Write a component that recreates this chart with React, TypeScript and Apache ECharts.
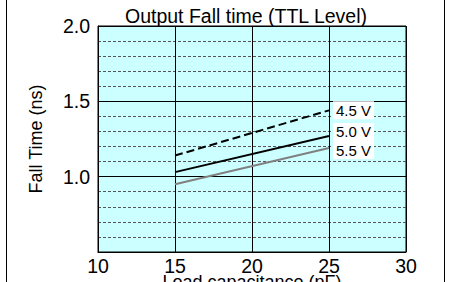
import React, { useEffect, useRef } from "react";
import * as echarts from "echarts";

const capacitance = [15, 25];
const fall45 = [1.14, 1.44];
const fall50 = [1.03, 1.27];
const fall55 = [0.95, 1.19];
const seriesNames = ["4.5 V", "5.0 V", "5.5 V"];

const FONT = "'Liberation Sans', Arial, sans-serif";

export default function App() {
  const ref = useRef<HTMLDivElement>(null);
  useEffect(() => {
    if (!ref.current) return;
    const chart = echarts.init(ref.current, null, { renderer: "svg" });
    const mk = (vals: number[]) => capacitance.map((c, i) => [c, vals[i]]);
    const lbl = (dy: number) => ({
      show: true,
      formatter: "{a}",
      color: "#000",
      fontSize: 15,
      fontFamily: FONT,
      backgroundColor: "#fff",
      padding: [2, 3, 1, 3],
      distance: 4,
      offset: [0, dy],
    });
    chart.setOption({
      animation: false,
      backgroundColor: "#fff",
      textStyle: { fontFamily: FONT },
      title: {
        text: "Output Fall time (TTL Level)",
        left: 125,
        top: 6,
        padding: 0,
        textStyle: { fontSize: 19.5, fontWeight: "normal", color: "#000", fontFamily: FONT },
      },
      grid: {
        left: 98,
        right: 43,
        top: 26,
        bottom: 30,
        containLabel: false,
        outerBoundsMode: "none",
        show: true,
        backgroundColor: "#ccffff",
        borderColor: "#000",
        borderWidth: 1,
      },
      graphic: [
        { type: "line", shape: { x1: 6.5, y1: 0, x2: 6.5, y2: 282 }, style: { stroke: "#000", lineWidth: 1 }, z: 10 },
        { type: "line", shape: { x1: 444.5, y1: 0, x2: 444.5, y2: 282 }, style: { stroke: "#000", lineWidth: 1 }, z: 10 },
      ],
      xAxis: {
        type: "value",
        min: 10,
        max: 30,
        interval: 5,
        name: "Load capacitance (pF)",
        nameLocation: "middle",
        nameGap: 21,
        nameMoveOverlap: false,
        nameTextStyle: { fontSize: 18, color: "#000", fontFamily: FONT },
        axisLine: { show: true, lineStyle: { color: "#000" } },
        axisTick: { show: false },
        axisLabel: { fontSize: 19.5, color: "#000", margin: 4, fontFamily: FONT },
        splitLine: { show: true, lineStyle: { color: "#000", width: 1 } },
      },
      yAxis: {
        type: "value",
        min: 0.5,
        max: 2.0,
        interval: 0.5,
        name: "Fall Time (ns)",
        nameLocation: "middle",
        nameGap: 53,
        nameMoveOverlap: false,
        nameTextStyle: { fontSize: 18, color: "#000", fontFamily: FONT },
        axisLine: { show: true, lineStyle: { color: "#000" } },
        axisTick: { show: false },
        axisLabel: {
          fontSize: 19.5,
          color: "#000",
          margin: 8,
          fontFamily: FONT,
          formatter: (v: number) => (Math.abs(v - 0.5) < 1e-6 ? "" : v.toFixed(1)),
        },
        splitLine: { show: true, lineStyle: { color: "#000", width: 1 } },
        minorTick: { show: false, splitNumber: 5 },
        minorSplitLine: { show: true, lineStyle: { color: "#555", type: [3, 2], width: 1 } },
      },
      series: [
        {
          name: seriesNames[0],
          type: "line",
          data: mk(fall45),
          symbol: "none",
          lineStyle: { color: "#000", width: 2, type: [8, 4] },
          endLabel: lbl(0),
          z: 5,
        },
        {
          name: seriesNames[1],
          type: "line",
          data: mk(fall50),
          symbol: "none",
          lineStyle: { color: "#000", width: 2 },
          endLabel: lbl(-4),
          z: 5,
        },
        {
          name: seriesNames[2],
          type: "line",
          data: mk(fall55),
          symbol: "none",
          lineStyle: { color: "#808080", width: 2 },
          endLabel: lbl(2),
          z: 5,
        },
      ],
    });
    return () => chart.dispose();
  }, []);
  return <div ref={ref} style={{ width: 449, height: 282, position: "absolute", left: 0, top: 0 }} />;
}
